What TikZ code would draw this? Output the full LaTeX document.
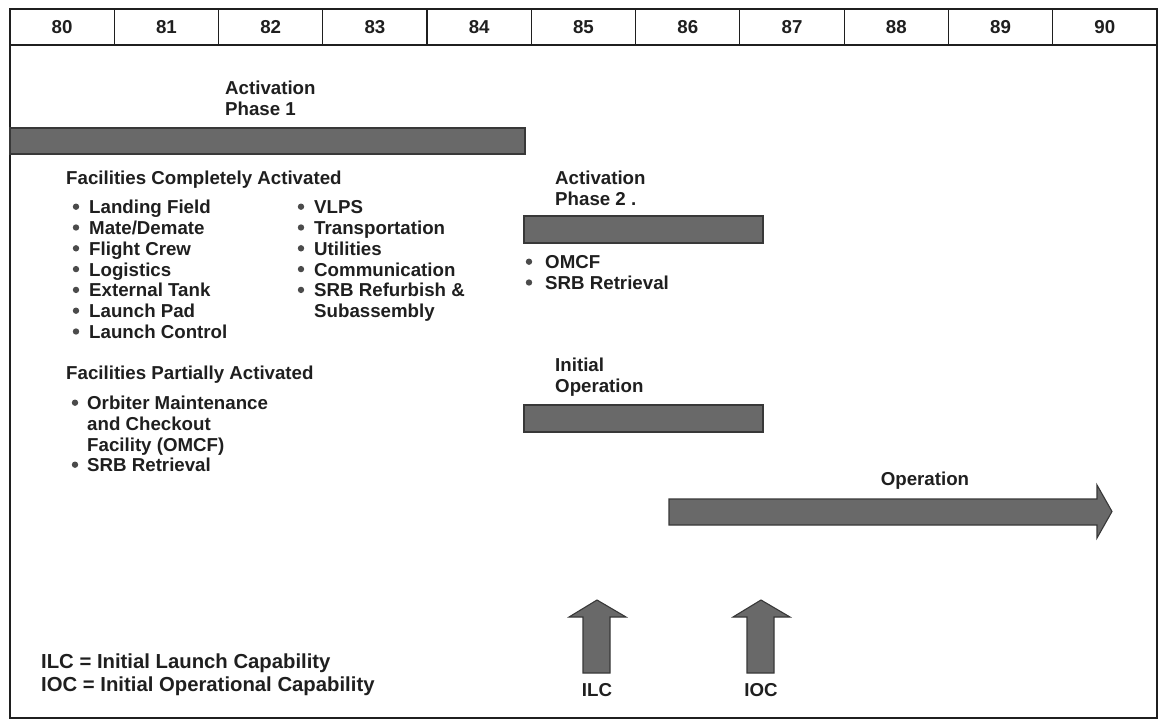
\documentclass[tikz,border=0pt]{standalone}
\usepackage{fontspec}
\setmainfont{Liberation Sans}
\usepackage{xcolor}
\usepackage{tikz}
\usetikzlibrary{positioning}

\newcommand\chartfont{\fontsize{18.7}{20.8}\selectfont\bfseries}
\newcommand\keyfont{\fontsize{20.3}{23}\selectfont\bfseries}
\definecolor{barfill}{gray}{0.41}
\definecolor{baredge}{gray}{0.22}
\definecolor{ink}{gray}{0.12}

\begin{document}
\begin{tikzpicture}[x=1pt, y=-1pt,
  frame/.style={draw=ink, line width=1.6pt},
  divider/.style={draw=ink, line width=1.2pt},
  bar/.style={draw=baredge, fill=barfill, line width=1.1pt},
  lbl/.style={anchor=north west, inner sep=0pt, align=left, text=ink, font=\chartfont},
  yearlbl/.style={inner sep=0pt, text=ink, font=\chartfont},
  dot/.style={circle, fill=ink!80, inner sep=0pt, minimum size=6.4pt}]

  \useasboundingbox (0,0) rectangle (1160,726);

  % Frame and year header
  \draw[frame] (10,9) rectangle (1157,718);
  \draw[frame] (10,45) -- (1157,45);
  \foreach \k in {1,...,10}
    \draw[divider] ({10+104.27*\k},9) -- ({10+104.27*\k},45);
  \foreach \yr [count=\i from 0] in {80,...,90}
    \node[yearlbl] (yr\yr) at ({10+104.27*(\i+0.5)},27) {\yr};

  % Activation phase 1
  \node[lbl] (act1) at (225,81) {Activation\\Phase 1};
  \draw[bar] (10,128) rectangle (525,154);

  % Facilities completely activated
  \node[lbl] (fullhead) at (66,171) {Facilities Completely Activated};
  \foreach \txt [count=\i] in {Landing Field, Mate/Demate, Flight Crew, Logistics,
      External Tank, Launch Pad, Launch Control} {
    \node[lbl] (fa\i) at (89,{200+20.8*(\i-1)}) {\txt};
    \node[dot] at ([xshift=-13pt,yshift=-6.7pt]fa\i.north west) {};
  }
  \foreach \txt [count=\i] in {VLPS, Transportation, Utilities, Communication,
      {SRB Refurbish \&\\Subassembly}} {
    \node[lbl] (fb\i) at (314,{200+20.8*(\i-1)}) {\txt};
    \node[dot] at ([xshift=-13pt,yshift=-6.7pt]fb\i.north west) {};
  }

  % Facilities partially activated
  \node[lbl] (parthead) at (66,366) {Facilities Partially Activated};
  \foreach \txt/\yy [count=\i] in {{Orbiter Maintenance\\and Checkout\\Facility (OMCF)}/396,
      SRB Retrieval/458} {
    \node[lbl] (pa\i) at (87,\yy) {\txt};
    \node[dot] at ([xshift=-12pt,yshift=-6.7pt]pa\i.north west) {};
  }

  % Activation phase 2
  \node[lbl] (act2) at (555,171) {Activation\\Phase 2 .};
  \draw[bar] (524,216) rectangle (763,243);
  \foreach \txt [count=\i] in {OMCF, SRB Retrieval} {
    \node[lbl] (pb\i) at (545,{255+20.8*(\i-1)}) {\txt};
    \node[dot] at ([xshift=-16pt,yshift=-6.7pt]pb\i.north west) {};
  }

  % Initial operation
  \node[lbl] (initop) at (555,358) {Initial\\Operation};
  \draw[bar] (524,405) rectangle (763,432);

  % Operation
  \node[yearlbl] (oper) at (925,481) {Operation};
  \draw[bar] (669,499) -- (1097,499) -- (1097,485) -- (1112,511.5)
    -- (1097,538) -- (1097,525) -- (669,525) -- cycle;

  % ILC and IOC markers
  \foreach \cx/\tag in {597/ILC, 761/IOC} {
    \draw[bar] (\cx-14,673) -- (\cx-14,617) -- (\cx-28,617) -- (\cx,600)
      -- (\cx+29,617) -- (\cx+13,617) -- (\cx+13,673) -- cycle;
    \node[yearlbl] (\tag) at (\cx,690) {\tag};
  }

  % Key
  \node[lbl, font=\keyfont] (key) at (41,654)
    {ILC = Initial Launch Capability\\IOC = Initial Operational Capability};
\end{tikzpicture}
\end{document}
